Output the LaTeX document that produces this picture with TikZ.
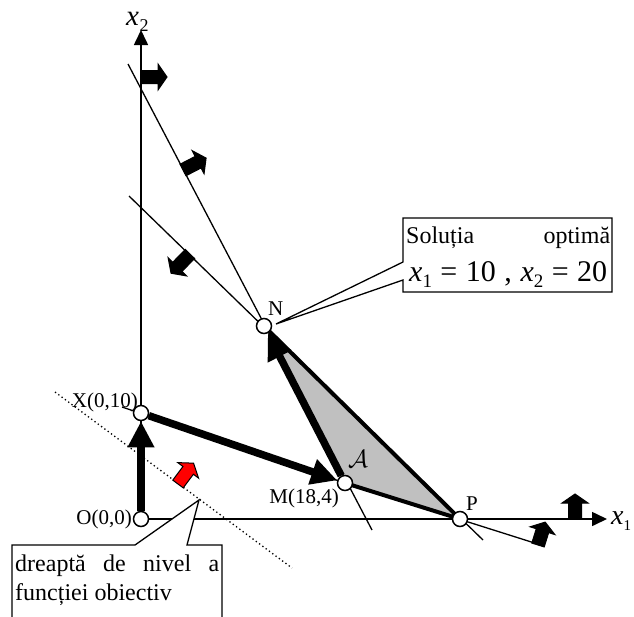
\documentclass[tikz,border=0pt]{standalone}
\usepackage{fontspec}
\setmainfont{Liberation Serif}
\usetikzlibrary{arrows.meta,calc}
\definecolor{regiongray}{HTML}{C0C0C0}
\definecolor{redarrow}{HTML}{FF0000}
\newcommand\blockarr[4][black]{%
  \begin{scope}[shift={#2},rotate=#3]
    \filldraw[fill=#1,draw=black,line width=1pt,line join=miter]
      (0,-6.5) -- ({#4-9},-6.5) -- ({#4-9},-13) -- (#4,0) -- ({#4-9},13) -- ({#4-9},6.5) -- (0,6.5) -- cycle;
  \end{scope}}
\begin{document}
\begin{tikzpicture}[x=1pt,y=-1pt,
  pt/.style={circle,draw,fill=white,line width=1.5pt,minimum size=15pt,inner sep=0pt},
  axisline/.style={line width=1.6pt,-{Triangle[length=15pt,width=14pt]}},
  cline/.style={line width=1.3pt},
  edge/.style={line width=4pt,line join=round},
  bigarrow/.style={line width=7.5pt,-{Triangle[length=26pt,width=25pt]}},
  lab/.style={inner sep=0pt,font=\fontsize{21}{21}\selectfont},
  callout/.style={fill=white,draw=black,line width=1.3pt,line join=miter},
  txt/.style={inner sep=0pt,anchor=base west,font=\fontsize{24}{24}\selectfont}]
\useasboundingbox (0,0) rectangle (634,616);
% points
\coordinate (Oc) at (141,519);
\coordinate (Xc) at (141,413);
\coordinate (Mc) at (345,483);
\coordinate (Nc) at (264,326);
\coordinate (Pc) at (460,519);
\coordinate (x2end) at (141,30);
\coordinate (x1end) at (607,519);
\coordinate (L1a) at (128,64);
\coordinate (L1b) at (372,530);
\coordinate (L2a) at (129,196);
\coordinate (L2b) at (483,540);
\coordinate (L3b) at (544,546);
\coordinate (L4a) at (122,407);
\coordinate (D1) at (55,392);
\coordinate (D2) at (292,568);
\coordinate (T1) at (199,500);
\coordinate (T2) at (276,324);
% feasible region
\fill[regiongray] (Nc) -- (Mc) -- (Pc) -- cycle;
% axes
\draw[axisline] (Oc) -- (x1end);
\draw[axisline] (Oc) -- (x2end);
% constraint lines
\draw[cline] (L1a) -- (L1b);
\draw[cline] (L2a) -- (L2b);
\draw[cline] (Mc) -- (L3b);
\draw[cline] (L4a) -- (Mc);
% level line
\draw[line width=1.3pt,dash pattern=on 1.3pt off 2.8pt] (D1) -- (D2);
% region edges
\draw[edge] (Mc) -- (Pc) -- (Nc);
% block arrows
\blockarr{(141,77)}{0}{26}
\blockarr{(183,170)}{27.3}{26}
\blockarr{(190,254)}{225.4}{27}
\blockarr[redarrow]{(178,484)}{53.3}{26}
\blockarr{(575,519)}{90}{25}
\blockarr{(538,545)}{72.6}{24}
% vertices
\node[pt] (O) at (Oc) {};
\node[pt] (X) at (Xc) {};
\node[pt] (M) at (Mc) {};
\node[pt] (N) at (Nc) {};
\node[pt] (P) at (Pc) {};
% path arrows
\draw[bigarrow] (O) -- (X);
\draw[bigarrow] (X) -- (M);
\draw[bigarrow] (M) -- (N);
% labels
\node[lab,anchor=base east] (lO) at (132,524) {O(0,0)};
\node[lab,anchor=base east] (lX) at (138,407) {X(0,10)};
\node[lab,anchor=base east] (lM) at (339,503) {M(18,4)};
\node[lab,anchor=base west] (lN) at (268,315) {N};
\node[lab,anchor=base west] (lP) at (466,510) {P};
\node[inner sep=0pt] (lA) at (358,459) {\fontsize{24}{24}\selectfont$\mathcal{A}$};
\node[inner sep=0pt,anchor=base west] (lx2) at (126,25) {\fontsize{29}{29}\selectfont\itshape x\kern0.5pt\raisebox{-0.22em}{\fontsize{18}{18}\selectfont\upshape 2}};
\node[inner sep=0pt,anchor=base west] (lx1) at (611,524) {\fontsize{28}{28}\selectfont\itshape x\raisebox{-0.22em}{\fontsize{15}{15}\selectfont\upshape 1}};
% callout: level line
\draw[callout] (12,640) -- (12,545) -- (135,545) -- (T1) -- (187,545) -- (222,545) -- (222,640);
\node[txt] (c1a) at (15,571) {\makebox[204pt][s]{dreaptă de nivel a}};
\node[txt] (c1b) at (15,600) {funcției obiectiv};
% callout: optimum
\draw[callout] (403,218) -- (612,218) -- (612,292) -- (403,292) -- (403,280) -- (T2) -- (403,262) -- cycle;
\node[txt] (c2a) at (406,243) {\makebox[204pt][s]{Soluția optimă}};
\node[txt] (c2b) at (409,281) {\fontsize{30}{30}\selectfont\makebox[198pt][s]{{\itshape x}\raisebox{-0.22em}{\fontsize{19}{19}\selectfont 1} = 10 , {\itshape x}\raisebox{-0.22em}{\fontsize{19}{19}\selectfont 2} = 20}};
\end{tikzpicture}
\end{document}
